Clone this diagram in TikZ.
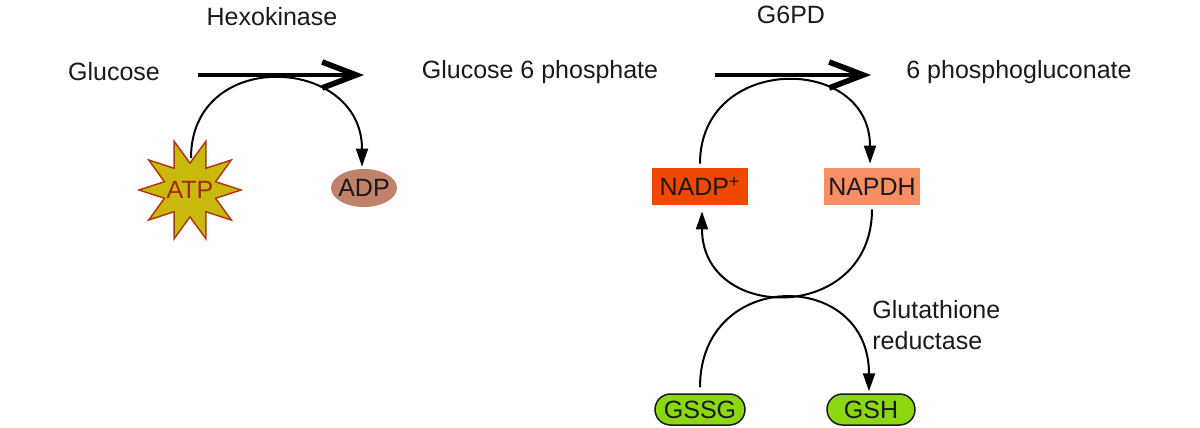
\documentclass[tikz,border=0pt]{standalone}
\usepackage{fontspec}
\setmainfont{Liberation Sans}
\usetikzlibrary{arrows.meta,shapes.geometric,shapes.misc}
\definecolor{atpfill}{RGB}{200,185,12}
\definecolor{atpline}{RGB}{176,58,12}
\definecolor{atptext}{RGB}{165,40,10}
\definecolor{adpfill}{RGB}{192,130,106}
\definecolor{nadpfill}{RGB}{240,72,0}
\definecolor{napdhfill}{RGB}{248,142,100}
\definecolor{gfill}{RGB}{140,216,16}
\definecolor{ink}{RGB}{26,26,26}
\begin{document}
\begin{tikzpicture}[x=0.5pt,y=-0.5pt,
  lbl/.style={font=\fontsize{12.5}{15.5}\selectfont, text=ink, inner sep=0pt},
  mainarrow/.style={line width=2pt, -{Straight Barb[length=17pt,width=13pt,line width=2.8pt]}},
  curvearrow/.style={line width=1pt, -{Triangle[length=9pt,width=6pt]}},
  boxnode/.style={lbl, minimum width=48pt, minimum height=18.5pt},
  pill/.style={lbl, rounded rectangle, draw=ink, line width=0.75pt, fill=gfill, minimum height=15.5pt}
]
\useasboundingbox (0,0) rectangle (1200,428);
% texts
\node[lbl] (glc) at (114,72) {Glucose};
\node[lbl] (hk) at (272,17) {Hexokinase};
\node[lbl] (g6p) at (540,72) {Glucose 6 phosphate};
\node[lbl] (g6pd) at (791,15) {G6PD};
\node[lbl] (pg) at (1019,72) {6 phosphogluconate};
% main arrows
\coordinate (a1s) at (198,75);
\coordinate (a1e) at (364,75);
\coordinate (a2s) at (715,75);
\coordinate (a2e) at (871,75);
\draw[mainarrow] (a1s) -- (a1e);
\draw[mainarrow] (a2s) -- (a2e);
% ATP / ADP
\node[star, star points=10, star point ratio=1.9, shape border rotate=18,
      minimum size=51pt, inner sep=0pt, fill=atpfill, draw=atpline, line width=0.75pt,
      label={[lbl, text=atptext]center:ATP}] (atp) at (190,190) {};
\node[ellipse, fill=adpfill, minimum width=33pt, minimum height=19pt, inner sep=0pt,
      label={[lbl]center:ADP}] (adp) at (364,188) {};
\coordinate (atptop) at (191,158);
\draw[curvearrow] (atptop) to[out=90,in=90,looseness=1.66] ([xshift=-1pt,yshift=1pt]adp.north);
% NADP+ / NAPDH
\node[boxnode, fill=nadpfill] (nadp) at (700,186.5) {NADP\textsuperscript{+}};
\node[boxnode, fill=napdhfill] (napdh) at (872,186.5) {NAPDH};
\draw[curvearrow, shorten <=2pt, shorten >=2pt] (nadp.north) to[out=90,in=90,looseness=1.72] ([xshift=-1pt]napdh.north);
\draw[curvearrow, shorten <=2pt, shorten >=3pt] (napdh.south) to[out=-90,in=-90,looseness=1.78] ([xshift=1pt]nadp.south);
% GSSG / GSH
\node[pill, minimum width=45pt] (gssg) at (700,409.5) {GSSG};
\node[pill, minimum width=44pt] (gsh) at (871,409.5) {GSH};
\draw[curvearrow, shorten <=3pt, shorten >=1pt] (gssg.north) to[out=90,in=90,looseness=1.9] ([xshift=-1pt]gsh.north);
\node[lbl, align=left, anchor=west] (gr) at (872,325.5) {Glutathione\\reductase};
\end{tikzpicture}
\end{document}
